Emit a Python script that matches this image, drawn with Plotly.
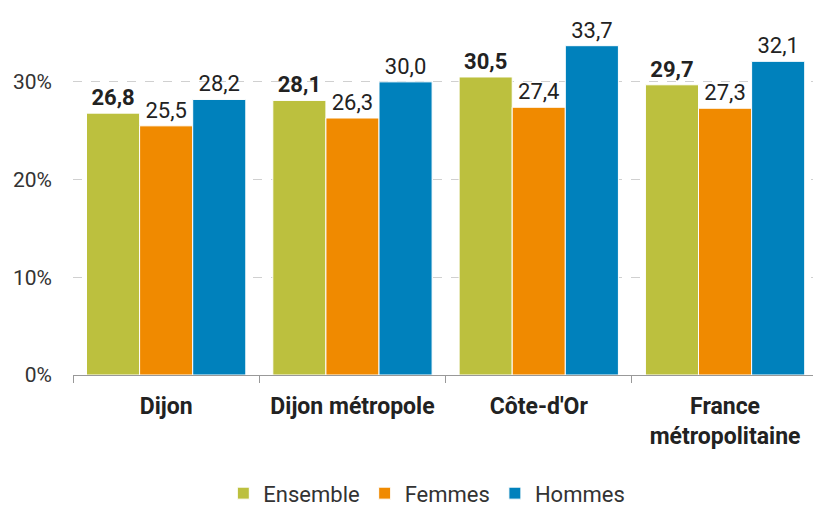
import plotly.graph_objects as go

categories = ["Dijon", "Dijon métropole", "Côte-d'Or", "France<br>métropolitaine"]
ensemble = [26.8, 28.1, 30.5, 29.7]
femmes = [25.5, 26.3, 27.4, 27.3]
hommes = [28.2, 30.0, 33.7, 32.1]
yticks = [0, 10, 20, 30]
ytick_labels = ["0%", "10%", "20%", "30%"]

def fmt(vals):
    return [f"{v:.1f}".replace(".", ",") for v in vals]

series = [
    ("Ensemble", ensemble, "#BCC03E", True),
    ("Femmes", femmes, "#F08A00", False),
    ("Hommes", hommes, "#0081BC", False),
]

fig = go.Figure()
for name, vals, color, bold in series:
    txt = fmt(vals)
    if bold:
        txt = [f"<b>{t}</b>" for t in txt]
    fig.add_trace(go.Bar(
        name=name, x=categories, y=vals, text=txt,
        textposition="outside", cliponaxis=False,
        marker=dict(color=color, line=dict(color="white", width=1)),
        outsidetextfont=dict(family="Roboto", size=22, color="#222222"),
        hoverinfo="skip",
    ))

fig.update_layout(
    width=813, height=506,
    margin=dict(l=73, r=0, t=33, b=131, autoexpand=False),
    barmode="group", bargap=0.145, bargroupgap=0,
    plot_bgcolor="white", paper_bgcolor="white",
    font=dict(family="Roboto", size=21, color="#222222"),
    legend=dict(orientation="h", x=0.525, xref="container", xanchor="center",
                y=0.025, yref="container", yanchor="middle",
                font=dict(size=22, color="#333333"), traceorder="normal",
                itemwidth=30),
    showlegend=True,
)
fig.update_xaxes(
    range=[-0.5, 3.472],
    showline=True, linecolor="#999999", linewidth=1, automargin=False,
    ticks="outside", tickson="boundaries", ticklen=7, tickcolor="#999999",
    tickfont=dict(family="Roboto", size=23, color="#222222", weight="bold"),
    ticklabelstandoff=10,
)
fig.update_yaxes(
    range=[0, 35], tickvals=yticks, ticktext=ytick_labels, automargin=False,
    showgrid=True, gridcolor="#d0d0d0", griddash="dash", gridwidth=1,
    zeroline=False, showline=False,
    tickfont=dict(family="Roboto", size=21, color="#333333"),
    ticklabelstandoff=20,
)
fig.write_html("out.html", config={"displayModeBar": False},
               post_script="document.body.style.margin='0';document.body.style.padding='0';")
